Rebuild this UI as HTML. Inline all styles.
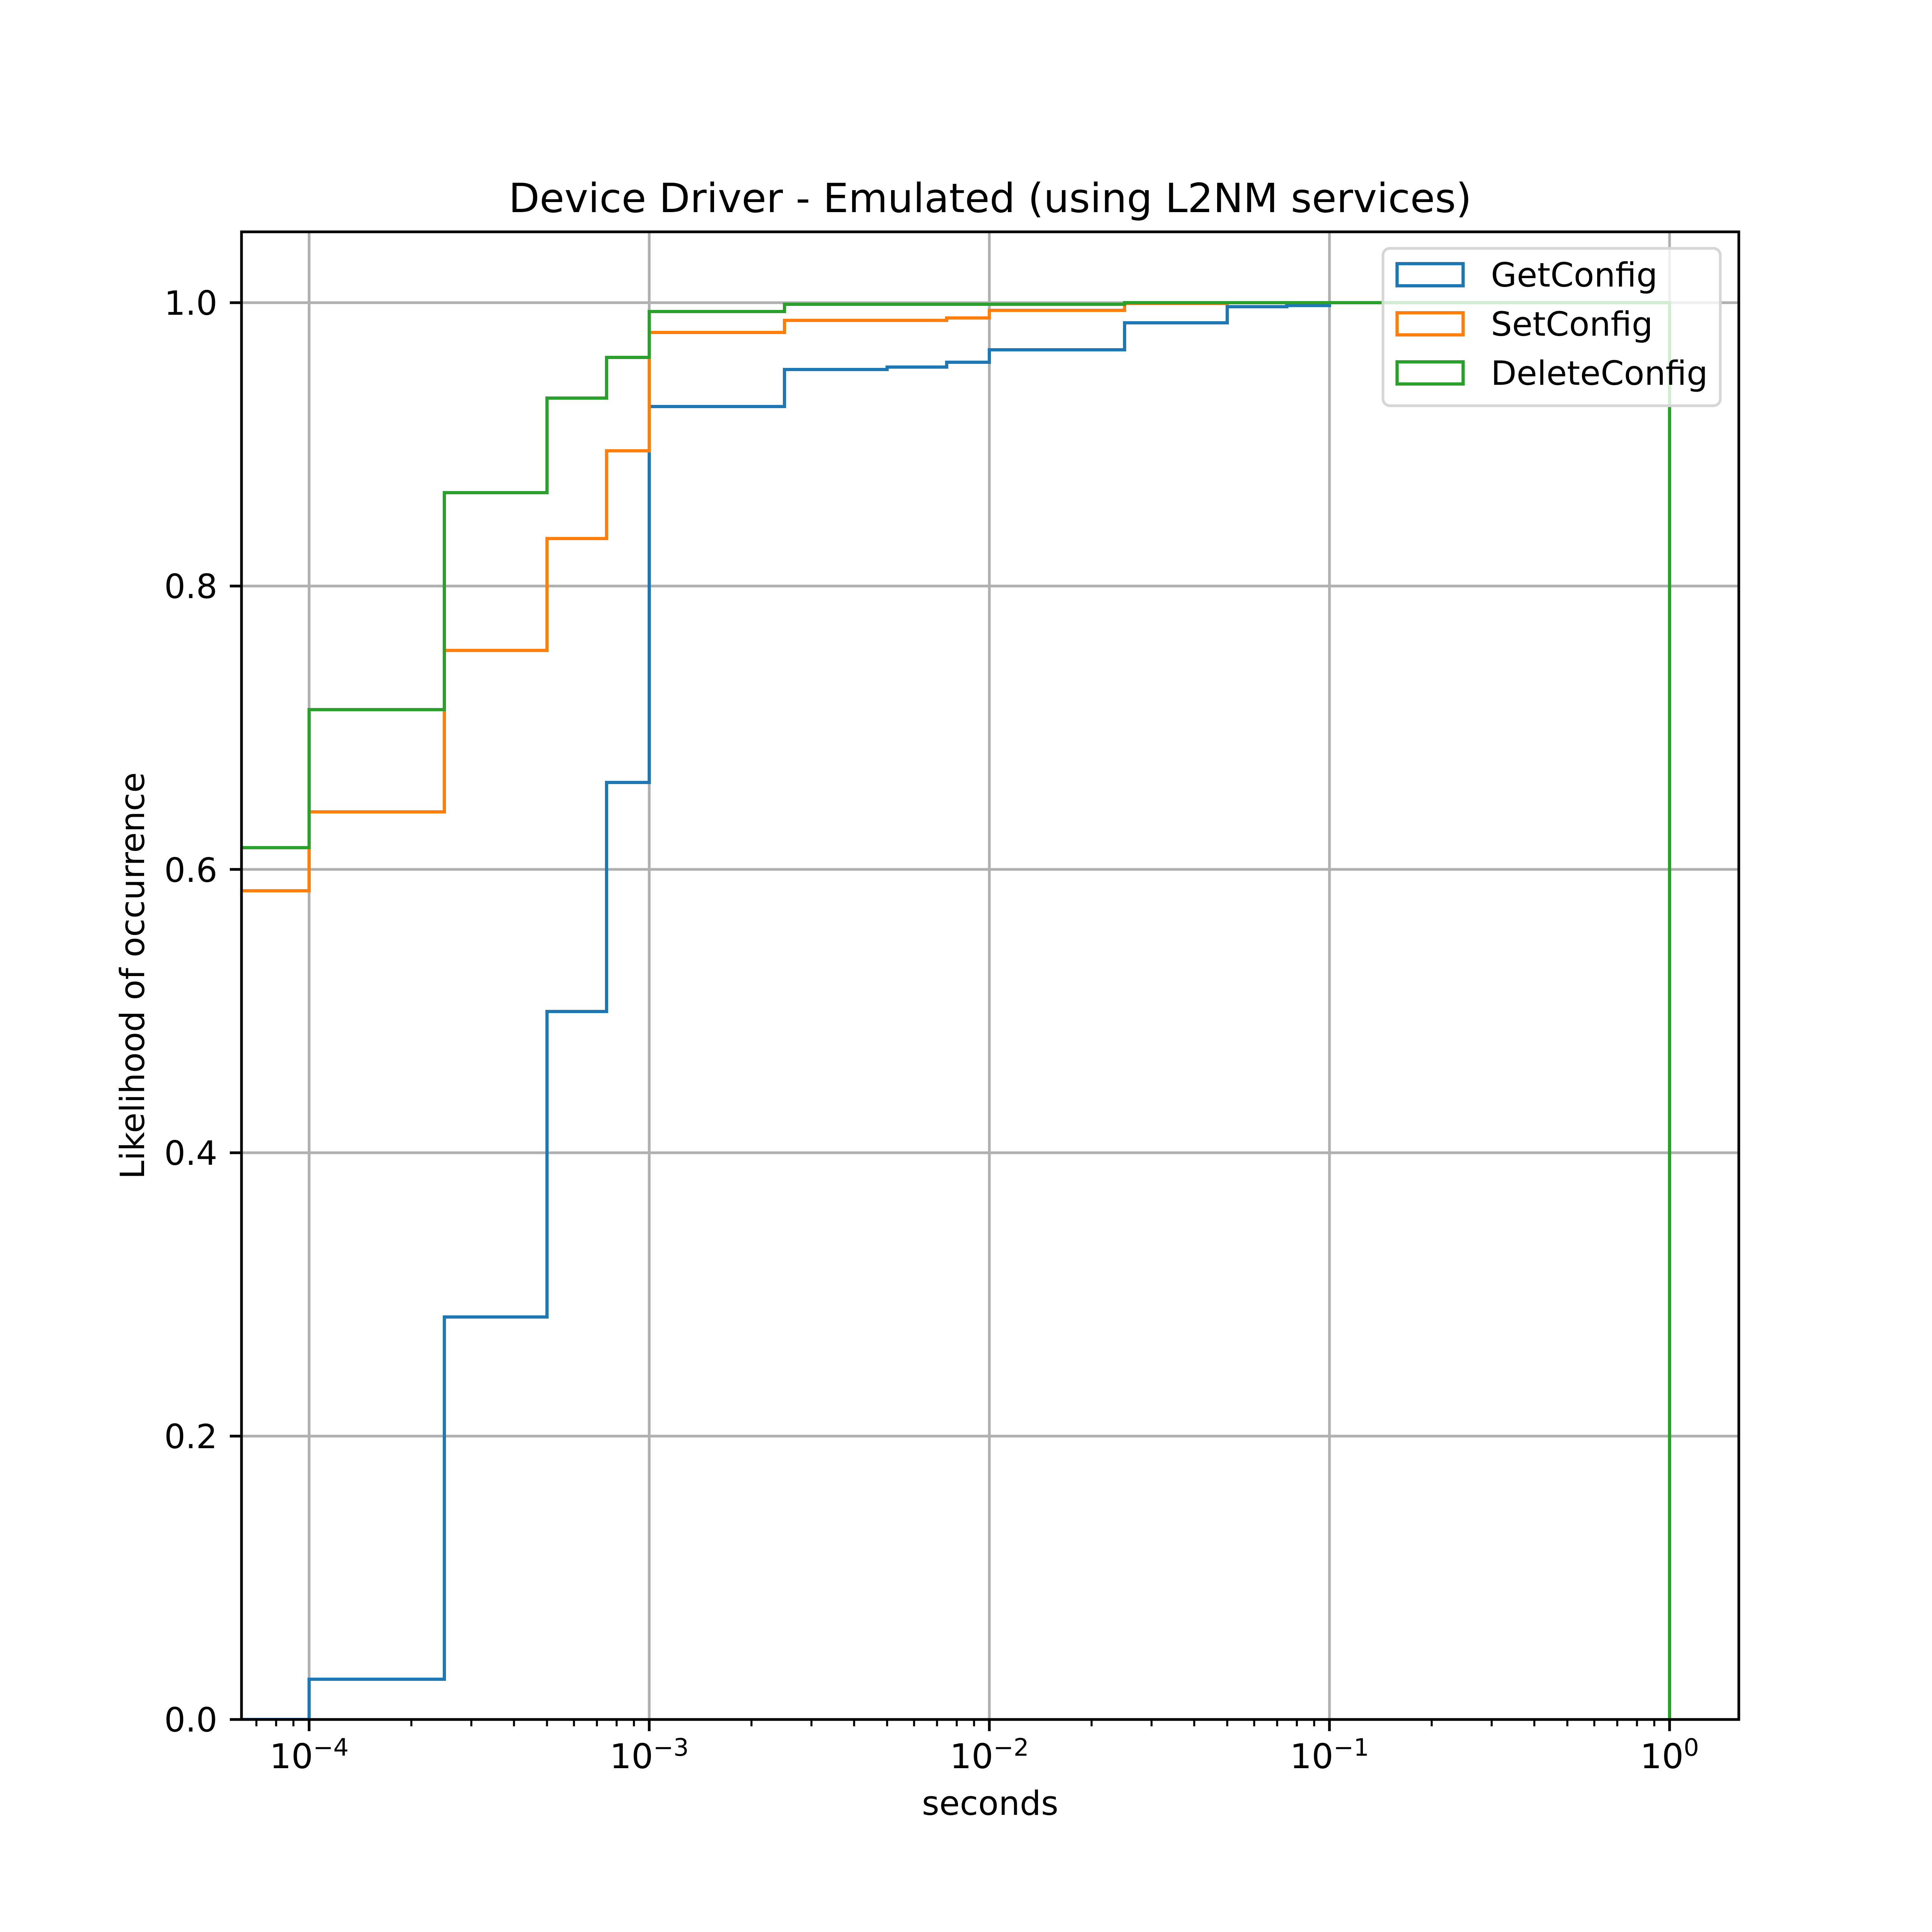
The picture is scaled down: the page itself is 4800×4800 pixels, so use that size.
<!DOCTYPE html>
<html><head><meta charset="utf-8"><style>
html,body{margin:0;padding:0;background:#fff;width:4800px;height:4800px;overflow:hidden}
svg{display:block}
text{font-family:"DejaVu Sans","Liberation Sans",sans-serif;fill:#000}
</style></head><body>
<svg width="4800" height="4800" viewBox="0 0 4800 4800" xmlns="http://www.w3.org/2000/svg">
<rect width="4800" height="4800" fill="#fff"/>
<defs><clipPath id="ax"><rect x="600" y="576" width="3720" height="3696"/></clipPath></defs>
<!-- grid -->
<g stroke="#b0b0b0" stroke-width="6.7" fill="none">
<line x1="768" y1="576" x2="768" y2="4272"/>
<line x1="1613" y1="576" x2="1613" y2="4272"/>
<line x1="2458" y1="576" x2="2458" y2="4272"/>
<line x1="3303" y1="576" x2="3303" y2="4272"/>
<line x1="4148" y1="576" x2="4148" y2="4272"/>
<line x1="600" y1="4272" x2="4320" y2="4272"/>
<line x1="600" y1="3568" x2="4320" y2="3568"/>
<line x1="600" y1="2864" x2="4320" y2="2864"/>
<line x1="600" y1="2160" x2="4320" y2="2160"/>
<line x1="600" y1="1456" x2="4320" y2="1456"/>
<line x1="600" y1="752" x2="4320" y2="752"/>
</g>
<!-- series -->
<g clip-path="url(#ax)" fill="none" stroke-width="8" stroke-linejoin="miter">
<path stroke="#1f77b4" d="M 590 4272 H 768 V 4172 H 1104 V 3272 H 1359 V 2513 H 1507 V 1944 H 1613 V 1010 H 1949 V 918 H 2204 V 912 H 2352 V 900 H 2458 V 869 H 2794 V 802 H 3049 V 762 H 3197 V 759 H 3303 V 752 H 4148 V 4272"/>
<path stroke="#ff7f0e" d="M 590 2213 H 768 V 2017 H 1104 V 1616 H 1359 V 1338 H 1507 V 1120 H 1613 V 826 H 1949 V 796 H 2352 V 790 H 2458 V 771 H 2794 V 754 H 3049 V 752 H 4148 V 4272"/>
<path stroke="#2ca02c" d="M 590 2106 H 768 V 1763 H 1104 V 1224 H 1359 V 989 H 1507 V 888 H 1613 V 774 H 1949 V 756 H 2794 V 752 H 4148 V 4272"/>
</g>
<!-- spines -->
<rect x="600" y="576" width="3720" height="3696" fill="none" stroke="#000" stroke-width="6.7"/>
<!-- x major ticks -->
<g stroke="#000" stroke-width="6.7">
<line x1="768" y1="4272" x2="768" y2="4301"/>
<line x1="1613" y1="4272" x2="1613" y2="4301"/>
<line x1="2458" y1="4272" x2="2458" y2="4301"/>
<line x1="3303" y1="4272" x2="3303" y2="4301"/>
<line x1="4148" y1="4272" x2="4148" y2="4301"/>
<line x1="600" y1="4272" x2="571" y2="4272"/>
<line x1="600" y1="3568" x2="571" y2="3568"/>
<line x1="600" y1="2864" x2="571" y2="2864"/>
<line x1="600" y1="2160" x2="571" y2="2160"/>
<line x1="600" y1="1456" x2="571" y2="1456"/>
<line x1="600" y1="752" x2="571" y2="752"/>
</g>
<!-- x minor ticks -->
<g stroke="#000" stroke-width="5">
<path d="M637 4272v17M686 4272v17M729 4272v17
M1022 4272v17M1171 4272v17M1277 4272v17M1359 4272v17M1426 4272v17M1483 4272v17M1532 4272v17M1575 4272v17
M1867 4272v17M2016 4272v17M2122 4272v17M2204 4272v17M2271 4272v17M2328 4272v17M2377 4272v17M2420 4272v17
M2712 4272v17M2861 4272v17M2967 4272v17M3049 4272v17M3116 4272v17M3173 4272v17M3222 4272v17M3265 4272v17
M3557 4272v17M3706 4272v17M3812 4272v17M3894 4272v17M3961 4272v17M4018 4272v17M4067 4272v17M4110 4272v17"/>
</g>
<!-- x tick labels -->
<g font-size="85" text-anchor="middle">
<text x="768" y="4393">10<tspan font-size="60" dy="-31">−4</tspan></text>
<text x="1613" y="4393">10<tspan font-size="60" dy="-31">−3</tspan></text>
<text x="2458" y="4393">10<tspan font-size="60" dy="-31">−2</tspan></text>
<text x="3303" y="4393">10<tspan font-size="60" dy="-31">−1</tspan></text>
<text x="4148" y="4393">10<tspan font-size="60" dy="-31">0</tspan></text>
</g>
<!-- y tick labels -->
<g font-size="83" text-anchor="end">
<text x="540" y="4302">0.0</text>
<text x="540" y="3598">0.2</text>
<text x="540" y="2894">0.4</text>
<text x="540" y="2191">0.6</text>
<text x="540" y="1486">0.8</text>
<text x="540" y="782">1.0</text>
</g>
<!-- labels -->
<text x="2460" y="4509" font-size="83" text-anchor="middle">seconds</text>
<text x="358" y="2424" font-size="83" text-anchor="middle" transform="rotate(-90 358 2424)">Likelihood of occurrence</text>
<text x="2460" y="527" font-size="100" text-anchor="middle">Device Driver - Emulated (using L2NM services)</text>
<!-- legend -->
<rect x="3436" y="617" width="3838" height="0" fill="none"/>
<rect x="3436" y="617" width="838" height="391" rx="17" ry="17" fill="#fff" fill-opacity="0.8" stroke="#d6d6d6" stroke-width="6.7"/>
<g fill="none" stroke-width="8">
<rect x="3471" y="655" width="164" height="55" stroke="#1f77b4"/>
<rect x="3471" y="777" width="164" height="55" stroke="#ff7f0e"/>
<rect x="3471" y="899" width="164" height="55" stroke="#2ca02c"/>
</g>
<g font-size="83">
<text x="3704" y="712">GetConfig</text>
<text x="3704" y="834">SetConfig</text>
<text x="3704" y="956">DeleteConfig</text>
</g>
</svg>
</body></html>
